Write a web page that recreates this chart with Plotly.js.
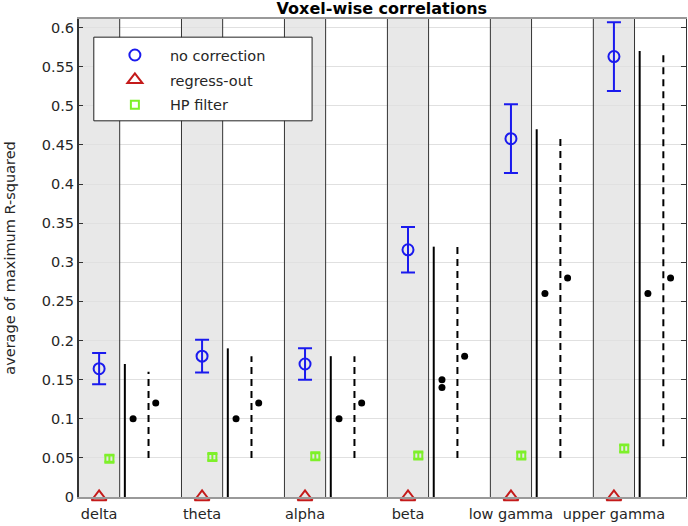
<!DOCTYPE html>
<html>
<head>
<meta charset="utf-8">
<script src="https://cdn.plot.ly/plotly-3.0.1.min.js"></script>
<style>body{margin:0;padding:0;background:#fff;}</style>
</head>
<body>
<div id="chart" style="width:688px;height:526px;"></div>
<script>
// bands
var bands = ['delta', 'theta', 'alpha', 'beta', 'low gamma', 'upper gamma'];

// no correction: mean and error half-width
var noCorr = [0.164, 0.180, 0.170, 0.316, 0.458, 0.563];
var noCorrErr = [0.020, 0.021, 0.020, 0.029, 0.044, 0.044];

// regress-out
var regress = [0, 0, 0, 0, 0, 0];

// HP filter
var hpFilter = [0.049, 0.051, 0.052, 0.053, 0.053, 0.062];
var hpErr = [0.004, 0.004, 0.004, 0.004, 0.004, 0.004];

// solid reference lines (from 0 up to top) and their dot(s)
var solidTop = [0.17, 0.19, 0.18, 0.32, 0.47, 0.57];
var solidDots = [[0.10], [0.10], [0.10], [0.15, 0.14], [0.26], [0.26]];

// dashed reference lines (low to top) and their dot
var dashLow = [0.05, 0.05, 0.05, 0.05, 0.05, 0.065];
var dashTop = [0.16, 0.18, 0.18, 0.32, 0.46, 0.57];
var dashDots = [0.12, 0.12, 0.12, 0.18, 0.28, 0.28];

var xs = bands.map(function (b, i) { return i + 1; });

var solidX = [], solidY = [], dashX = [], dashY = [];
var dotX = [], dotY = [];
xs.forEach(function (x, i) {
    solidX.push(x + 0.25, x + 0.25, null);
    solidY.push(0, solidTop[i], null);
    dashX.push(x + 0.48, x + 0.48, null);
    dashY.push(dashLow[i], dashTop[i], null);
    solidDots[i].forEach(function (v) { dotX.push(x + 0.33); dotY.push(v); });
    dotX.push(x + 0.55); dotY.push(dashDots[i]);
});

var shapes = [];
xs.forEach(function (x) {
    shapes.push({
        type: 'rect', xref: 'x', yref: 'paper', x0: x - 0.2, x1: x + 0.2, y0: 0, y1: 1,
        fillcolor: '#e8e8e8', line: {width: 0}, layer: 'below'
    });
    [x - 0.2, x + 0.2].forEach(function (e) {
        shapes.push({
            type: 'line', xref: 'x', yref: 'paper', x0: e, x1: e, y0: 0, y1: 1,
            line: {color: '#333333', width: 1}, layer: 'above'
        });
    });
});
// legend box
shapes.push({
    type: 'rect', xref: 'paper', yref: 'paper', x0: 0.026, x1: 0.385, y0: 0.787, y1: 0.962,
    fillcolor: 'white', line: {color: '#222222', width: 1}, layer: 'above'
});

var data = [
    {
        x: solidX, y: solidY, mode: 'lines', type: 'scatter', showlegend: false, hoverinfo: 'skip',
        line: {color: 'black', width: 2}
    },
    {
        x: dashX, y: dashY, mode: 'lines', type: 'scatter', showlegend: false, hoverinfo: 'skip',
        line: {color: 'black', width: 2, dash: '7px,5px'}
    },
    {
        x: dotX, y: dotY, mode: 'markers', type: 'scatter', showlegend: false,
        marker: {color: 'black', size: 7}
    },
    {
        x: xs, y: noCorr, name: 'no correction', legendgroup: 'a', mode: 'markers', type: 'scatter',
        marker: {symbol: 'circle-open', size: 11, color: '#1a1aee', line: {width: 2}},
        error_y: {type: 'data', array: noCorrErr, visible: true, color: '#1a1aee', thickness: 2, width: 7}
    },
    {
        x: xs, y: regress, name: 'regress-out', legendgroup: 'b', mode: 'markers', type: 'scatter', cliponaxis: false,
        marker: {symbol: 'triangle-up-open', size: 13, color: '#c41a1a', line: {width: 2}}
    },
    {
        x: xs.map(function (x) { return x + 0.1; }), y: hpFilter, name: 'HP filter', legendgroup: 'c', mode: 'markers', type: 'scatter',
        marker: {symbol: 'square-open', size: 8, color: '#7ef02a', line: {width: 2}},
        error_y: {type: 'data', array: hpErr, visible: true, color: '#7ef02a', thickness: 2, width: 5}
    }
];

var layout = {
    width: 688,
    height: 526,
    margin: {l: 78, r: 2, t: 19, b: 29},
    paper_bgcolor: 'white',
    plot_bgcolor: 'white',
    font: {family: 'DejaVu Sans', size: 14.5, color: '#262626'},
    title: {
        text: '<b>Voxel-wise correlations</b>',
        font: {size: 16, color: 'black'},
        x: 0.555, xanchor: 'center', yref: 'container', y: 0.984, yanchor: 'middle'
    },
    xaxis: {
        range: [0.795, 6.7],
        tickvals: xs,
        ticktext: bands,
        showgrid: false,
        zeroline: false,
        ticks: '',
        ticklabelstandoff: 3,
        showline: true,
        linecolor: '#999999',
        linewidth: 2,
        mirror: true
    },
    yaxis: {
        title: {text: 'average of maximum R-squared', font: {size: 14.5}, standoff: 22},
        range: [0, 0.611],
        dtick: 0.05,
        showgrid: true,
        gridcolor: '#e0e0e0',
        zeroline: false,
        ticks: 'inside',
        ticklen: 5,
        tickcolor: '#333333',
        showline: true,
        linecolor: '#333333',
        linewidth: 1,
        mirror: 'ticks'
    },
    shapes: shapes,
    showlegend: true,
    legend: {
        x: 0.036, y: 0.958, xanchor: 'left', yanchor: 'top',
        bgcolor: 'rgba(0,0,0,0)',
        borderwidth: 0,
        font: {size: 14.5},
        itemwidth: 60,
        tracegroupgap: 3
    }
};

Plotly.newPlot('chart', data, layout, {displayModeBar: false});
</script>
</body>
</html>
